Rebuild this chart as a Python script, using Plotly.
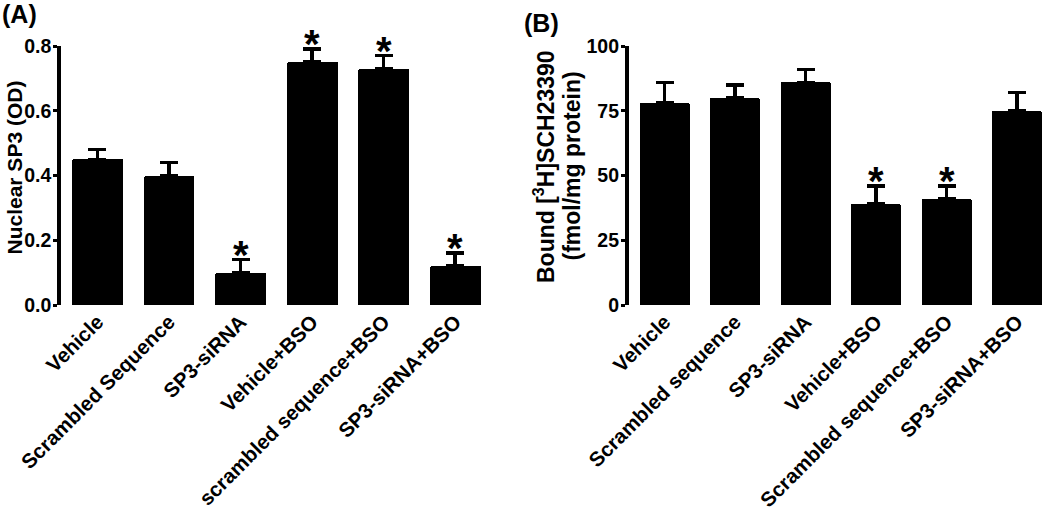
import plotly.graph_objects as go

# Panel A data
cats_a = ["Vehicle", "Scrambled Sequence", "SP3-siRNA", "Vehicle+BSO",
          "scrambled sequence+BSO", "SP3-siRNA+BSO"]
mean_a = [0.45, 0.40, 0.10, 0.75, 0.73, 0.12]
sem_a = [0.03, 0.04, 0.04, 0.04, 0.04, 0.04]
sig_a = [False, False, True, True, True, True]
ticks_a = [0.0, 0.2, 0.4, 0.6, 0.8]
ticktext_a = ["0.0", "0.2", "0.4", "0.6", "0.8"]

# Panel B data
cats_b = ["Vehicle", "Scrambled sequence", "SP3-siRNA", "Vehicle+BSO",
          "Scrambled sequence+BSO", "SP3-siRNA+BSO"]
mean_b = [78, 80, 86, 39, 41, 75]
sem_b = [8, 5, 5, 7, 5, 7]
sig_b = [False, False, False, True, True, False]
ticks_b = [0, 25, 50, 75, 100]

W, H = 1050, 513
FONT = "Liberation Sans, Arial, sans-serif"

def px(x):
    return x / W

def py(y):
    return 1 - y / H

fig = go.Figure()

def add_bars(cats, mean, sem, xa, ya):
    fig.add_trace(go.Bar(
        x=list(range(len(cats))), y=mean, xaxis=xa, yaxis=ya,
        width=0.71, marker=dict(color="black", line=dict(width=0), cornerradius=2),
        error_y=dict(type="data", array=sem, arrayminus=[0] * len(sem),
                     symmetric=False, color="black", thickness=3.5, width=9),
        showlegend=False, hoverinfo="skip"))

add_bars(cats_a, mean_a, sem_a, "x", "y")
add_bars(cats_b, mean_b, sem_b, "x2", "y2")

ydom = [py(305), py(46)]

axis_font = dict(family=FONT, size=19.5, color="black", weight="bold")
xtick_font = dict(family=FONT, size=20.5, color="black", weight="bold")

common_x = dict(showline=False, showgrid=False, zeroline=False, ticks="",
                tickangle=-45, tickfont=xtick_font, automargin=False)
common_y = dict(showline=True, linewidth=3.5, linecolor="black", ticks="outside",
                ticklen=4, tickwidth=3, tickcolor="black", showgrid=False,
                zeroline=False, tickfont=axis_font, automargin=False)

fig.update_layout(
    width=W, height=H, margin=dict(l=0, r=0, t=0, b=0, autoexpand=False),
    paper_bgcolor="white", plot_bgcolor="white",
    font=dict(family=FONT, color="black"),
    bargap=0,
    xaxis=dict(domain=[px(61), px(491)], range=[-0.51, 5.5],
               tickvals=list(range(6)), ticktext=cats_a, anchor="y", **common_x),
    yaxis=dict(domain=ydom, range=[0, 0.8], tickvals=ticks_a, ticktext=ticktext_a,
               anchor="x", **common_y),
    xaxis2=dict(domain=[px(628.7), px(1050)], range=[-0.508, 5.468],
                tickvals=list(range(6)), ticktext=cats_b, anchor="y2", **common_x),
    yaxis2=dict(domain=ydom, range=[0, 100], tickvals=ticks_b, anchor="x2", **common_y),
)

for ax in ("yaxis", "yaxis2"):
    try:
        fig.layout[ax].ticklabelstandoff = -2
    except Exception:
        pass

ann = []
star_font = dict(family=FONT, size=40, color="black", weight="bold")
for i, (m, s, g) in enumerate(zip(mean_a, sem_a, sig_a)):
    if g:
        ann.append(dict(x=i, y=m + s, xref="x", yref="y", text="*", showarrow=False,
                        yanchor="middle", yshift=5, font=star_font))
for i, (m, s, g) in enumerate(zip(mean_b, sem_b, sig_b)):
    if g:
        ann.append(dict(x=i, y=m + s, xref="x2", yref="y2", text="*", showarrow=False,
                        yanchor="middle", yshift=5, font=star_font))

title_font = dict(family=FONT, size=21, color="black", weight="bold")
ann.append(dict(x=0, y=py(168), xref="paper", yref="paper",
                text="Nuclear SP3 (OD)", textangle=-90, showarrow=False,
                xanchor="left", yanchor="middle", font=title_font))
title_font_b = dict(family=FONT, size=23, color="black", weight="bold")
ann.append(dict(x=px(544), y=py(167), xref="paper", yref="paper",
                text="Bound [<sup>3</sup>H]SCH23390", textangle=-90, showarrow=False,
                xanchor="center", yanchor="middle", font=title_font_b))
ann.append(dict(x=px(571), y=py(166.5), xref="paper", yref="paper",
                text="(fmol/mg protein)", textangle=-90, showarrow=False,
                xanchor="center", yanchor="middle", font=title_font_b))

panel_font = dict(family=FONT, size=25, color="black", weight="bold")
ann.append(dict(x=0, y=py(14), xref="paper", yref="paper", text="(A)",
                showarrow=False, xanchor="left", yanchor="middle", font=panel_font))
ann.append(dict(x=px(522), y=py(23), xref="paper", yref="paper", text="(B)",
                showarrow=False, xanchor="left", yanchor="middle", font=panel_font))

fig.update_layout(annotations=ann)
fig.write_html("out.html", config={"displayModeBar": False},
               post_script="document.body.style.margin='0';document.body.style.overflow='hidden';")
